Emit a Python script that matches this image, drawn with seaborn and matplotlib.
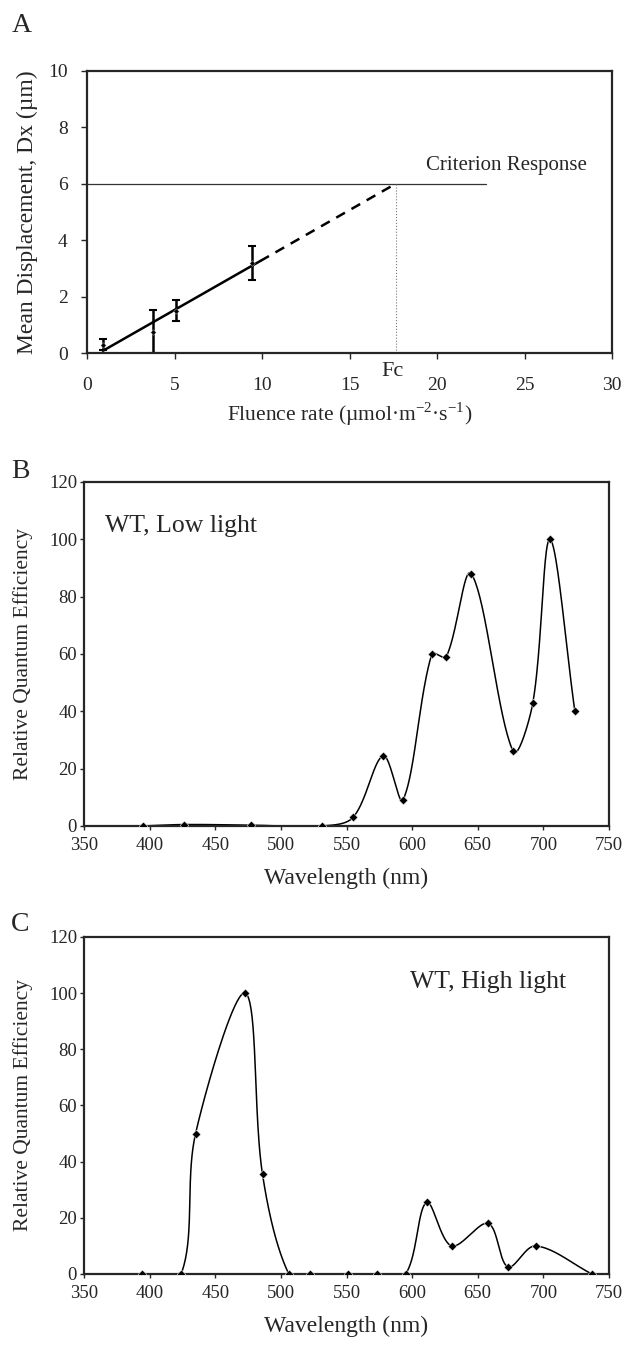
import numpy as np
import pandas as pd
import matplotlib
matplotlib.use("Agg")
import matplotlib.pyplot as plt
import seaborn as sns

# Panel A: displacement vs fluence rate
fluence = [0.91, 3.77, 5.09, 9.43]
displacement = [0.30, 0.76, 1.50, 3.20]
disp_err = [0.19, 0.75, 0.38, 0.60]
fit_slope = 0.354
fit_intercept = -0.242
fit_solid_end = 9.9
criterion = 6.0
criterion_line_end = 22.8

# Panel B: WT, low light
wl_low = [395, 426, 477, 531, 555, 578, 593, 615, 626, 645, 677, 692, 705, 724]
qe_low = [0, 0.5, 0.3, 0, 3, 24.5, 9, 60, 59, 88, 26, 43, 100, 40]

# Panel C: WT, high light
wl_high = [394, 424, 435, 473, 486, 506, 522, 551, 573, 595, 611, 630, 658, 673, 694, 737]
qe_high = [0, 0, 50, 100, 35.5, 0, 0, 0, 0, 0, 25.5, 10, 18, 2.5, 10, 0]

sns.set_style("ticks")
plt.rcParams['font.family'] = ['Liberation Serif', 'DejaVu Serif']
plt.rcParams['mathtext.fontset'] = 'custom'
plt.rcParams['mathtext.rm'] = 'Liberation Serif'
plt.rcParams['axes.linewidth'] = 1.6
plt.rcParams['xtick.direction'] = 'out'
plt.rcParams['ytick.direction'] = 'out'


def smooth_curve(xs, ys, sx, sy, n=40):
    # smoothed line like the spreadsheet one: bezier segments, tangents weighted by chord length
    p = np.column_stack([np.asarray(xs, float) * sx, np.asarray(ys, float) * sy])
    p = np.vstack([p[0], p, p[-1]])
    out = []
    t = np.linspace(0, 1, n)[:, None]
    for i in range(1, len(p) - 2):
        p0, p1, p2, p3 = p[i - 1], p[i], p[i + 1], p[i + 2]
        d01 = np.hypot(*(p1 - p0))
        d12 = np.hypot(*(p2 - p1))
        d23 = np.hypot(*(p3 - p2))
        c1 = p1 + (p2 - p0) * d12 / max(d01 + d12, 1e-9) / 3
        c2 = p2 - (p3 - p1) * d12 / max(d12 + d23, 1e-9) / 3
        seg = ((1 - t) ** 3) * p1 + 3 * ((1 - t) ** 2) * t * c1 + 3 * (1 - t) * t ** 2 * c2 + t ** 3 * p2
        out.append(seg if i == 1 else seg[1:])
    out = np.vstack(out)
    return out[:, 0] / sx, out[:, 1] / sy


fig = plt.figure(figsize=(6.25, 13.47), dpi=100)
axA = fig.add_axes([0.1392, 0.7379, 0.8400, 0.2094])
axB = fig.add_axes([0.1344, 0.3868, 0.8400, 0.2554])
axC = fig.add_axes([0.1344, 0.0542, 0.8400, 0.2502])

# ---- A ----
dfA = pd.DataFrame({'F': fluence, 'D': displacement})
axA.errorbar(fluence, displacement, yerr=disp_err, fmt='none', ecolor='black',
             elinewidth=1.8, capsize=3, capthick=1.5)
sns.scatterplot(data=dfA, x='F', y='D', marker='D', s=8, color='black', ax=axA, zorder=5)
fc = (criterion - fit_intercept) / fit_slope
xs = np.array([fluence[0], fit_solid_end])
sns.lineplot(x=xs, y=fit_slope * xs + fit_intercept, color='black', lw=1.8, ax=axA)
xd = np.array([fit_solid_end, fc])
axA.plot(xd, fit_slope * xd + fit_intercept, color='black', lw=1.8, ls=(0, (4, 3)))
axA.plot([0, criterion_line_end], [criterion, criterion], color='#333333', lw=0.9)
axA.plot([fc, fc], [0, criterion], color='#777777', lw=0.8, ls=':')
axA.text(19.4, 6.3, 'Criterion Response', fontsize=15, va='bottom')
axA.text(fc - 0.2, -0.3, 'Fc', fontsize=16, ha='center', va='top')
axA.set_xlim(0, 30)
axA.set_ylim(0, 10)
axA.set_xticks(range(0, 31, 5))
axA.set_yticks(range(0, 11, 2))
axA.tick_params(labelsize=14, length=4, width=1)
axA.tick_params(axis='x', pad=13)
axA.tick_params(axis='y', pad=10)
axA.set_xlabel('Fluence rate (µmol·m$^{\\rm{-}2}$·s$^{\\rm{-}1}$)', fontsize=15.5, labelpad=5)
axA.set_ylabel('Mean Displacement, Dx (µm)', fontsize=17)
axA.yaxis.set_label_coords(-0.093, 0.5)
fig.text(0.018, 0.9814, 'A', fontsize=20, va='center')

# ---- B and C ----
for ax, wl, qe, label, lx, ly_txt, letter, ly in [
        (axB, wl_low, qe_low, 'WT, Low light', 366, 104.5, 'B', 0.650),
        (axC, wl_high, qe_high, 'WT, High light', 598, 104, 'C', 0.3133)]:
    bbox = ax.get_position()
    sx = bbox.width * 625 / 400
    sy = bbox.height * 1347 / 120
    cx, cy = smooth_curve(wl, qe, sx, sy)
    sns.lineplot(x=cx, y=cy, sort=False, estimator=None, color='black', lw=1.1, ax=ax)
    sns.scatterplot(x=wl, y=qe, marker='D', s=20, color='black', ax=ax, zorder=5)
    ax.text(lx, ly_txt, label, fontsize=18.5, va='center')
    ax.set_xlim(350, 750)
    ax.set_ylim(0, 120)
    ax.set_xticks(range(350, 751, 50))
    ax.set_yticks(range(0, 121, 20))
    ax.tick_params(labelsize=13.5, length=3, width=1)
    ax.tick_params(axis='x', pad=5)
    ax.tick_params(axis='y', pad=2)
    ax.set_xlabel('Wavelength (nm)', fontsize=17, labelpad=10)
    ax.set_ylabel('Relative Quantum Efficiency', fontsize=15.5)
    ax.yaxis.set_label_coords(-0.097, 0.5)
    fig.text(0.018, ly, letter, fontsize=20, va='center')

fig.savefig('out.png', dpi=100, facecolor='white')
